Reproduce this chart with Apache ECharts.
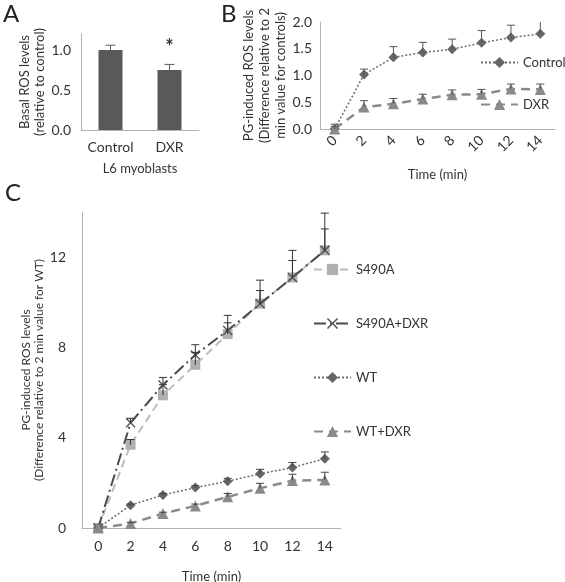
<!DOCTYPE html>
<html>
<head>
<meta charset="utf-8">
<script src="https://cdn.jsdelivr.net/npm/echarts@6/dist/echarts.min.js"></script>
<style>html,body{margin:0;padding:0;background:#fff}#c{width:565px;height:582px}</style>
</head>
<body>
<div id="c"></div>
<script>
// Panel A
const aCats = ['Control', 'DXR'];
const aValues = [1.0, 0.75];
const aErr = [0.06, 0.07];
const aYTicks = [0, 0.5, 1.0];

// Panel B
const timeCats = ['0', '2', '4', '6', '8', '10', '12', '14'];
const bControl = [0, 1.02, 1.34, 1.43, 1.49, 1.61, 1.71, 1.78];
const bControlErr = [0.09, 0.10, 0.20, 0.19, 0.19, 0.23, 0.23, 0.25];
const bDXR = [0, 0.41, 0.47, 0.56, 0.64, 0.65, 0.75, 0.74];
const bDXRErr = [0.05, 0.12, 0.10, 0.09, 0.09, 0.09, 0.09, 0.10];

// Panel C
const cS490A = [0, 3.69, 5.88, 7.23, 8.59, 9.94, 11.1, 12.3];
const cS490AErr = [0, 0.23, 0.47, 0.55, 0.50, 0.58, 0.75, 0.95];
const cS490ADXR = [0, 4.66, 6.34, 7.67, 8.75, 9.93, 11.1, 12.3];
const cS490ADXRErr = [0, 0.20, 0.33, 0.45, 0.67, 1.05, 1.20, 1.65];
const cWT = [0, 1.01, 1.46, 1.79, 2.07, 2.40, 2.68, 3.07];
const cWTErr = [0, 0.05, 0.07, 0.08, 0.13, 0.20, 0.22, 0.30];
const cWTDXR = [0, 0.20, 0.64, 0.98, 1.38, 1.76, 2.10, 2.13];
const cWTDXRErr = [0, 0.05, 0.06, 0.08, 0.15, 0.22, 0.28, 0.34];

const FONT = 'Lato';
const TXT = '#333333';
const AXC = '#b3b3b3';

function errData(vals, errs) {
  return vals.map((v, i) => [i, v, errs[i]]);
}
function errSeries(xi, yi, vals, errs, color, cap) {
  return {
    type: 'custom', xAxisIndex: xi, yAxisIndex: yi, clip: true, z: 5,
    silent: true,
    data: errData(vals, errs),
    renderItem: function (params, api) {
      const x = api.value(0), v = api.value(1), e = api.value(2);
      if (!e) return null;
      const p0 = api.coord([x, v]);
      const p1 = api.coord([x, v + e]);
      const w = cap / 2;
      return {
        type: 'group',
        children: [
          { type: 'line', shape: { x1: p0[0], y1: p0[1], x2: p1[0], y2: p1[1] }, style: { stroke: color, lineWidth: 1 } },
          { type: 'line', shape: { x1: p1[0] - w, y1: p1[1], x2: p1[0] + w, y2: p1[1] }, style: { stroke: color, lineWidth: 1 } }
        ]
      };
    }
  };
}

const xSym = 'path://M0,1L1,0L5,4L9,0L10,1L6,5L10,9L9,10L5,6L1,10L0,9L4,5Z';

const axisLabelStyle = { fontFamily: FONT, fontSize: 14, color: TXT };

const option = {
  animation: false,
  backgroundColor: '#fff',
  textStyle: { fontFamily: FONT },
  graphic: [
    { type: 'text', left: 3, top: 2, style: { text: 'A', fontFamily: FONT, fontSize: 24, fill: '#222' } },
    { type: 'text', left: 221, top: 2, style: { text: 'B', fontFamily: FONT, fontSize: 24, fill: '#222' } },
    { type: 'text', left: 5, top: 181, style: { text: 'C', fontFamily: FONT, fontSize: 24, fill: '#222' } }
  ],
  grid: [
    { left: 81, top: 34, width: 118, height: 96, outerBoundsMode: 'none' },
    { left: 320, top: 22, width: 235, height: 107, outerBoundsMode: 'none' },
    { left: 82, top: 212, width: 259, height: 316, outerBoundsMode: 'none' }
  ],
  xAxis: [
    {
      gridIndex: 0, type: 'category', data: aCats,
      axisLine: { lineStyle: { color: AXC } }, axisTick: { show: false },
      axisLabel: Object.assign({ margin: 10, interval: 0 }, axisLabelStyle),
      name: 'L6 myoblasts', nameLocation: 'middle', nameGap: 32, nameTextStyle: { fontFamily: FONT, fontSize: 13, color: TXT }
    },
    {
      gridIndex: 1, type: 'category', data: timeCats,
      axisLine: { lineStyle: { color: AXC } }, axisTick: { show: false },
      axisLabel: Object.assign({ margin: 9, rotate: 45, interval: 0 }, axisLabelStyle),
      name: 'Time (min)', nameLocation: 'middle', nameGap: 39, nameTextStyle: { fontFamily: FONT, fontSize: 13, color: TXT }
    },
    {
      gridIndex: 2, type: 'category', data: timeCats,
      axisLine: { lineStyle: { color: AXC } }, axisTick: { show: false },
      axisLabel: Object.assign({ margin: 11, interval: 0 }, axisLabelStyle),
      name: 'Time (min)', nameLocation: 'middle', nameGap: 42, nameTextStyle: { fontFamily: FONT, fontSize: 13, color: TXT }
    }
  ],
  yAxis: [
    {
      gridIndex: 0, type: 'value', min: 0, max: 1.2, interval: 0.5,
      axisLine: { show: true, lineStyle: { color: AXC } }, axisTick: { show: false }, splitLine: { show: false },
      axisLabel: Object.assign({ margin: 10, formatter: v => aYTicks.some(t => Math.abs(t - v) < 1e-6) ? v.toFixed(1) : '' }, axisLabelStyle),
      name: 'Basal ROS levels\n(relative to control)', nameLocation: 'middle', nameRotate: 90, nameGap: 28,
      nameTextStyle: { fontFamily: FONT, fontSize: 13, color: TXT, lineHeight: 15 }
    },
    {
      gridIndex: 1, type: 'value', min: 0, max: 2, interval: 0.5,
      axisLine: { show: true, lineStyle: { color: AXC } }, axisTick: { show: false }, splitLine: { show: false },
      axisLabel: Object.assign({ margin: 8, formatter: v => v.toFixed(1) }, axisLabelStyle),
      name: 'PG-induced ROS levels\n(Difference relative to 2\nmin value for controls)', nameLocation: 'middle', nameRotate: 90, nameGap: 25,
      nameTextStyle: { fontFamily: FONT, fontSize: 13, color: TXT, lineHeight: 16 }
    },
    {
      gridIndex: 2, type: 'value', min: 0, max: 14, interval: 4,
      axisLine: { show: true, lineStyle: { color: AXC } }, axisTick: { show: false }, splitLine: { show: false },
      axisLabel: Object.assign({ margin: 16, formatter: v => (v % 4 === 0 ? String(v) : '') }, axisLabelStyle),
      name: 'PG-induced ROS levels\n(Difference relative to 2 min value for WT)', nameLocation: 'middle', nameRotate: 90, nameGap: 33,
      nameTextStyle: { fontFamily: FONT, fontSize: 12, color: TXT, lineHeight: 13 }
    }
  ],
  legend: [
    {
      left: 480, top: 56, orient: 'vertical', padding: 0, itemGap: 29, itemWidth: 37, itemHeight: 14,
      data: ['Control', 'DXR'],
      textStyle: { fontFamily: FONT, fontSize: 13, color: TXT, overflow: 'none' }
    },
    {
      left: 313, top: 263, orient: 'vertical', padding: 0, itemGap: 41, itemWidth: 37, itemHeight: 14,
      data: ['S490A', 'S490A+DXR', 'WT', 'WT+DXR'],
      textStyle: { fontFamily: FONT, fontSize: 13, color: TXT, overflow: 'none' }
    }
  ],
  series: [
    // Panel A
    {
      type: 'bar', xAxisIndex: 0, yAxisIndex: 0, barWidth: 24,
      itemStyle: { color: '#595959' },
      data: aValues.map((v, i) => i === 1 ? {
        value: v,
        label: { show: true, position: 'top', distance: 12, formatter: '*', fontFamily: FONT, fontSize: 20, fontWeight: 'bold', color: '#333' }
      } : v)
    },
    errSeries(0, 0, aValues, aErr, '#595959', 10),

    // Panel B
    {
      name: 'Control', type: 'line', xAxisIndex: 1, yAxisIndex: 1, data: bControl,
      symbol: 'diamond', symbolSize: 10,
      lineStyle: { color: '#6b6b6b', width: 1.5, type: [2, 2] },
      itemStyle: { color: '#666666' }, z: 3
    },
    {
      name: 'DXR', type: 'line', xAxisIndex: 1, yAxisIndex: 1, data: bDXR,
      symbol: 'triangle', symbolSize: 11,
      lineStyle: { color: '#8a8a8a', width: 2.5, type: [9, 6] },
      itemStyle: { color: '#8a8a8a' }, z: 3
    },
    errSeries(1, 1, bControl, bControlErr, '#555555', 8),
    errSeries(1, 1, bDXR, bDXRErr, '#555555', 8),

    // Panel C
    {
      name: 'S490A', type: 'line', xAxisIndex: 2, yAxisIndex: 2, data: cS490A,
      symbol: 'rect', symbolSize: 10,
      lineStyle: { color: '#bdbdbd', width: 2, type: [8, 5] },
      itemStyle: { color: '#b0b0b0' }, z: 2
    },
    {
      name: 'S490A+DXR', type: 'line', xAxisIndex: 2, yAxisIndex: 2, data: cS490ADXR,
      symbol: xSym, symbolSize: 10,
      lineStyle: { color: '#4a4a4a', width: 2, type: [12, 4, 2, 4] },
      itemStyle: { color: '#555555' }, z: 3
    },
    {
      name: 'WT', type: 'line', xAxisIndex: 2, yAxisIndex: 2, data: cWT,
      symbol: 'diamond', symbolSize: 10,
      lineStyle: { color: '#6b6b6b', width: 1.5, type: [2, 2] },
      itemStyle: { color: '#666666' }, z: 3
    },
    {
      name: 'WT+DXR', type: 'line', xAxisIndex: 2, yAxisIndex: 2, data: cWTDXR,
      symbol: 'triangle', symbolSize: 11,
      lineStyle: { color: '#8a8a8a', width: 2.5, type: [9, 6] },
      itemStyle: { color: '#8a8a8a' }, z: 3
    },
    errSeries(2, 2, cS490A, cS490AErr, '#333333', 8),
    errSeries(2, 2, cS490ADXR, cS490ADXRErr, '#333333', 8),
    errSeries(2, 2, cWT, cWTErr, '#444444', 8),
    errSeries(2, 2, cWTDXR, cWTDXRErr, '#444444', 8)
  ]
};

const chart = echarts.init(document.getElementById('c'), null, { renderer: 'canvas' });
chart.setOption(option);
</script>
</body>
</html>
